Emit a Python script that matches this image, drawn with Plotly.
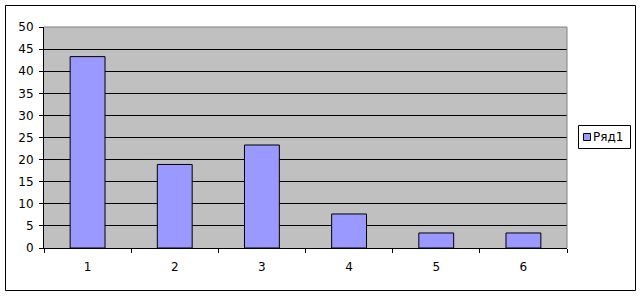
import plotly.graph_objects as go

categories = ["1", "2", "3", "4", "5", "6"]
values = [43.3, 18.9, 23.3, 7.7, 3.4, 3.4]
series_name = "Ряд1"
y_ticks = [0, 5, 10, 15, 20, 25, 30, 35, 40, 45, 50]

W, H = 641, 296
L, R, T, B = 44, 74, 27, 48
PW, PH = W - L - R, H - T - B

def px(x):
    return (x - L) / PW

def py(y):
    return (H - B - y) / PH

FONT = dict(family="DejaVu Sans", size=12, color="black")

fig = go.Figure()
fig.add_trace(go.Bar(
    x=categories, y=values, name=series_name,
    marker=dict(color="#9999FF", line=dict(color="black", width=1)),
    showlegend=False,
))

shapes = [
    dict(type="rect", xref="paper", yref="paper",
         x0=px(5.5), x1=px(635.5), y0=py(290.5), y1=py(5.5),
         line=dict(color="black", width=1), layer="below"),
    dict(type="path", xref="paper", yref="paper",
         path="M 0 1 L 1 1 L 1 0",
         line=dict(color="#808080", width=1), layer="above"),
    dict(type="rect", xref="paper", yref="paper",
         x0=px(578.5), x1=px(630.5), y0=py(148.5), y1=py(125.5),
         line=dict(color="black", width=1), fillcolor="white"),
    dict(type="rect", xref="paper", yref="paper",
         x0=px(583.5), x1=px(590.5), y0=py(140.5), y1=py(133.5),
         line=dict(color="black", width=1), fillcolor="#9999FF"),
]

annotations = [
    dict(text=series_name, xref="paper", yref="paper",
         x=px(591), y=py(137), xanchor="left", yanchor="middle",
         showarrow=False, font=FONT),
]

fig.update_layout(
    width=W, height=H,
    margin=dict(l=L, r=R, t=T, b=B),
    paper_bgcolor="white",
    plot_bgcolor="#C0C0C0",
    font=FONT,
    bargap=0.6,
    showlegend=False,
    shapes=shapes,
    annotations=annotations,
    xaxis=dict(
        type="category",
        showgrid=False,
        showline=True, linecolor="black", linewidth=1,
        ticks="outside", tickson="boundaries", ticklen=4,
        tickcolor="black", tickwidth=1,
        ticklabelstandoff=8,
        tickfont=FONT,
    ),
    yaxis=dict(
        range=[0, 50],
        tickvals=y_ticks,
        showgrid=True, gridcolor="black", gridwidth=1,
        zeroline=False,
        showline=True, linecolor="black", linewidth=1,
        ticks="outside", ticklen=4, tickcolor="black", tickwidth=1,
        ticklabelstandoff=3,
        tickfont=FONT,
    ),
)

fig.write_html("out.html")
